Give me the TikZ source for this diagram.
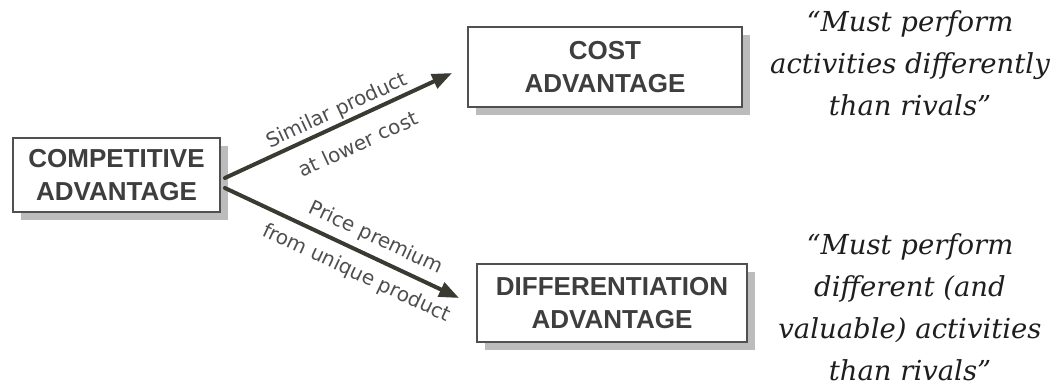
\documentclass[tikz,border=0pt]{standalone}
\usepackage{fontspec}
\setmainfont{Liberation Sans}
\newfontfamily\boxfont{Liberation Sans}
\newfontfamily\lblfont{DejaVu Sans}
\newfontfamily\quotefont{DejaVu Serif}
\usetikzlibrary{arrows.meta,shadows,calc}
\definecolor{boxtext}{HTML}{3E3E3E}
\definecolor{boxline}{HTML}{505050}
\definecolor{shadowgray}{HTML}{BCBCBC}
\definecolor{arrowcol}{HTML}{3A3A32}
\definecolor{lblcol}{HTML}{4E4E4E}
\definecolor{quotecol}{HTML}{1E1E1E}
\tikzset{
  advbox/.style={draw=boxline, line width=1.8pt, fill=white, align=center,
    text=boxtext, inner sep=0pt,
    font=\boxfont\bfseries\fontsize{26}{33}\selectfont,
    drop shadow={shadow xshift=8pt, shadow yshift=-8pt, fill=shadowgray, opacity=1}},
  bigarrow/.style={draw=arrowcol, line width=4pt, line cap=round,
    -{Triangle[length=20pt,width=15pt]}},
  lbl/.style={sloped, text=lblcol, inner sep=0pt,
    font=\lblfont\fontsize{20}{24}\selectfont},
  quote/.style={align=center, text=quotecol, inner sep=0pt,
    font=\quotefont\itshape\fontsize{27.5}{42}\selectfont}
}
\begin{document}
\begin{tikzpicture}[x=1pt,y=-1pt]
\useasboundingbox (0,0) rectangle (1063,389);
\node[advbox, minimum width=207pt, minimum height=74pt] (ca) at (116.5,175) {COMPETITIVE\\ADVANTAGE};
\node[advbox, minimum width=274pt, minimum height=80pt] (cost) at (605,67) {COST\\ADVANTAGE};
\node[advbox, minimum width=270pt, minimum height=78pt] (diff) at (612,303) {DIFFERENTIATION\\ADVANTAGE};
\coordinate (s1) at ($(ca.east)+(4,3)$);
\coordinate (s2) at ($(ca.east)+(4,13)$);
\coordinate (e1) at ($(cost.west)+(-15,6)$);
\coordinate (e2) at ($(diff.west)+(-17,-5)$);
\draw[bigarrow] (s1) -- node[lbl, pos=0.52, above=2pt] {Similar product}
                        node[lbl, pos=0.54, below=15pt] {at lower cost} (e1);
\draw[bigarrow] (s2) -- node[lbl, pos=0.61, above=7pt] {Price premium}
                        node[lbl, pos=0.60, below=10pt] {from unique product} (e2);
\node[quote] (q1) at (910,63) {“Must perform\\activities differently\\than rivals”};
\node[quote] (q2) at (910,307) {“Must perform\\different (and\\valuable) activities\\than rivals”};
\end{tikzpicture}
\end{document}
